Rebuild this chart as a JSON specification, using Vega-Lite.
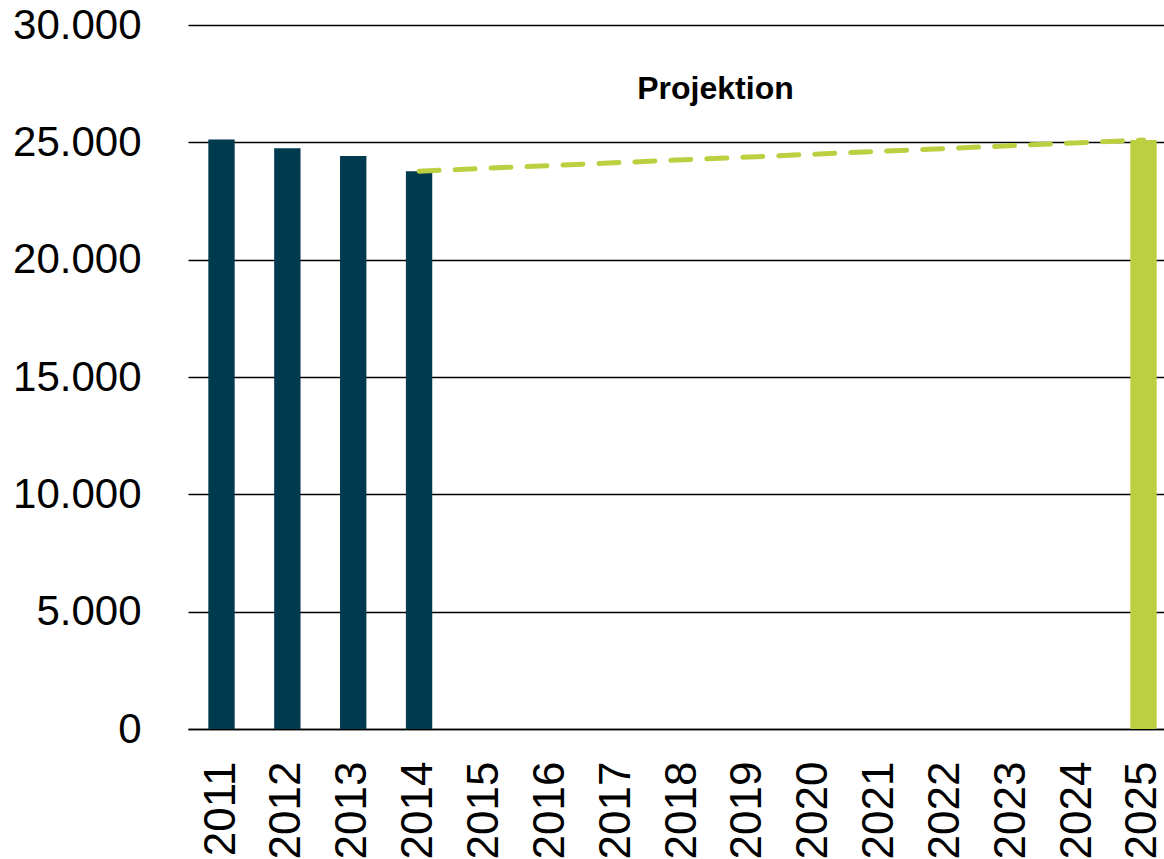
{
  "$schema": "https://vega.github.io/schema/vega-lite/v6.json",
  "width": 976,
  "height": 704,
  "autosize": {"type": "none"},
  "padding": {"left": 188, "top": 25, "right": 0, "bottom": 130},
  "background": "white",
  "config": {"view": {"stroke": null}, "font": "Liberation Sans"},
  "datasets": {
    "bars": [
      {"year": "2011", "value": 25120, "kind": "Ist"},
      {"year": "2012", "value": 24750, "kind": "Ist"},
      {"year": "2013", "value": 24420, "kind": "Ist"},
      {"year": "2014", "value": 23770, "kind": "Ist"},
      {"year": "2025", "value": 25100, "kind": "Projektion"}
    ],
    "note": [
      {"year": "2018", "value": 27270, "label": "Projektion"}
    ]
  },
  "layer": [
    {
      "data": {"name": "bars"},
      "mark": {"type": "bar"},
      "encoding": {
        "x": {
          "field": "year", "type": "nominal",
          "scale": {
            "domain": ["2011","2012","2013","2014","2015","2016","2017","2018","2019","2020","2021","2022","2023","2024","2025"],
            "paddingInner": 0.6, "paddingOuter": 0.21, "align": 0.735
          },
          "axis": {
            "title": null, "labelAngle": -90, "labelFontSize": 44, "labelColor": "#000000",
            "labelFont": "Liberation Sans", "labelPadding": 32, "ticks": false,
            "domainColor": "#000000", "domainWidth": 1.5, "grid": false
          }
        },
        "y": {
          "field": "value", "type": "quantitative",
          "scale": {"domain": [0, 30000], "nice": false},
          "axis": {
            "title": null, "values": [0, 5000, 10000, 15000, 20000, 25000, 30000],
            "labelExpr": "replace(format(datum.value, ','), ',', '.')",
            "labelFontSize": 42, "labelColor": "#000000", "labelFont": "Liberation Sans",
            "labelPadding": 47, "ticks": false, "domain": false,
            "grid": true, "gridColor": "#000000", "gridWidth": 1.3
          }
        },
        "color": {
          "field": "kind", "type": "nominal",
          "scale": {"domain": ["Ist", "Projektion"], "range": ["#003A4E", "#BCCF41"]},
          "legend": null
        }
      }
    },
    {
      "data": {"name": "bars"},
      "transform": [{"filter": "datum.year == '2014' || datum.year == '2025'"}],
      "mark": {"type": "line", "color": "#BCCF41", "strokeWidth": 5, "strokeDash": [20, 16], "strokeCap": "round"},
      "encoding": {
        "x": {"field": "year", "type": "nominal"},
        "y": {"field": "value", "type": "quantitative"}
      }
    },
    {
      "data": {"name": "note"},
      "mark": {"type": "text", "fontSize": 32, "fontWeight": "bold", "color": "#000000", "align": "center", "baseline": "middle", "xOffset": 33, "font": "Liberation Sans"},
      "encoding": {
        "x": {"field": "year", "type": "nominal"},
        "y": {"field": "value", "type": "quantitative"},
        "text": {"field": "label"}
      }
    }
  ]
}
